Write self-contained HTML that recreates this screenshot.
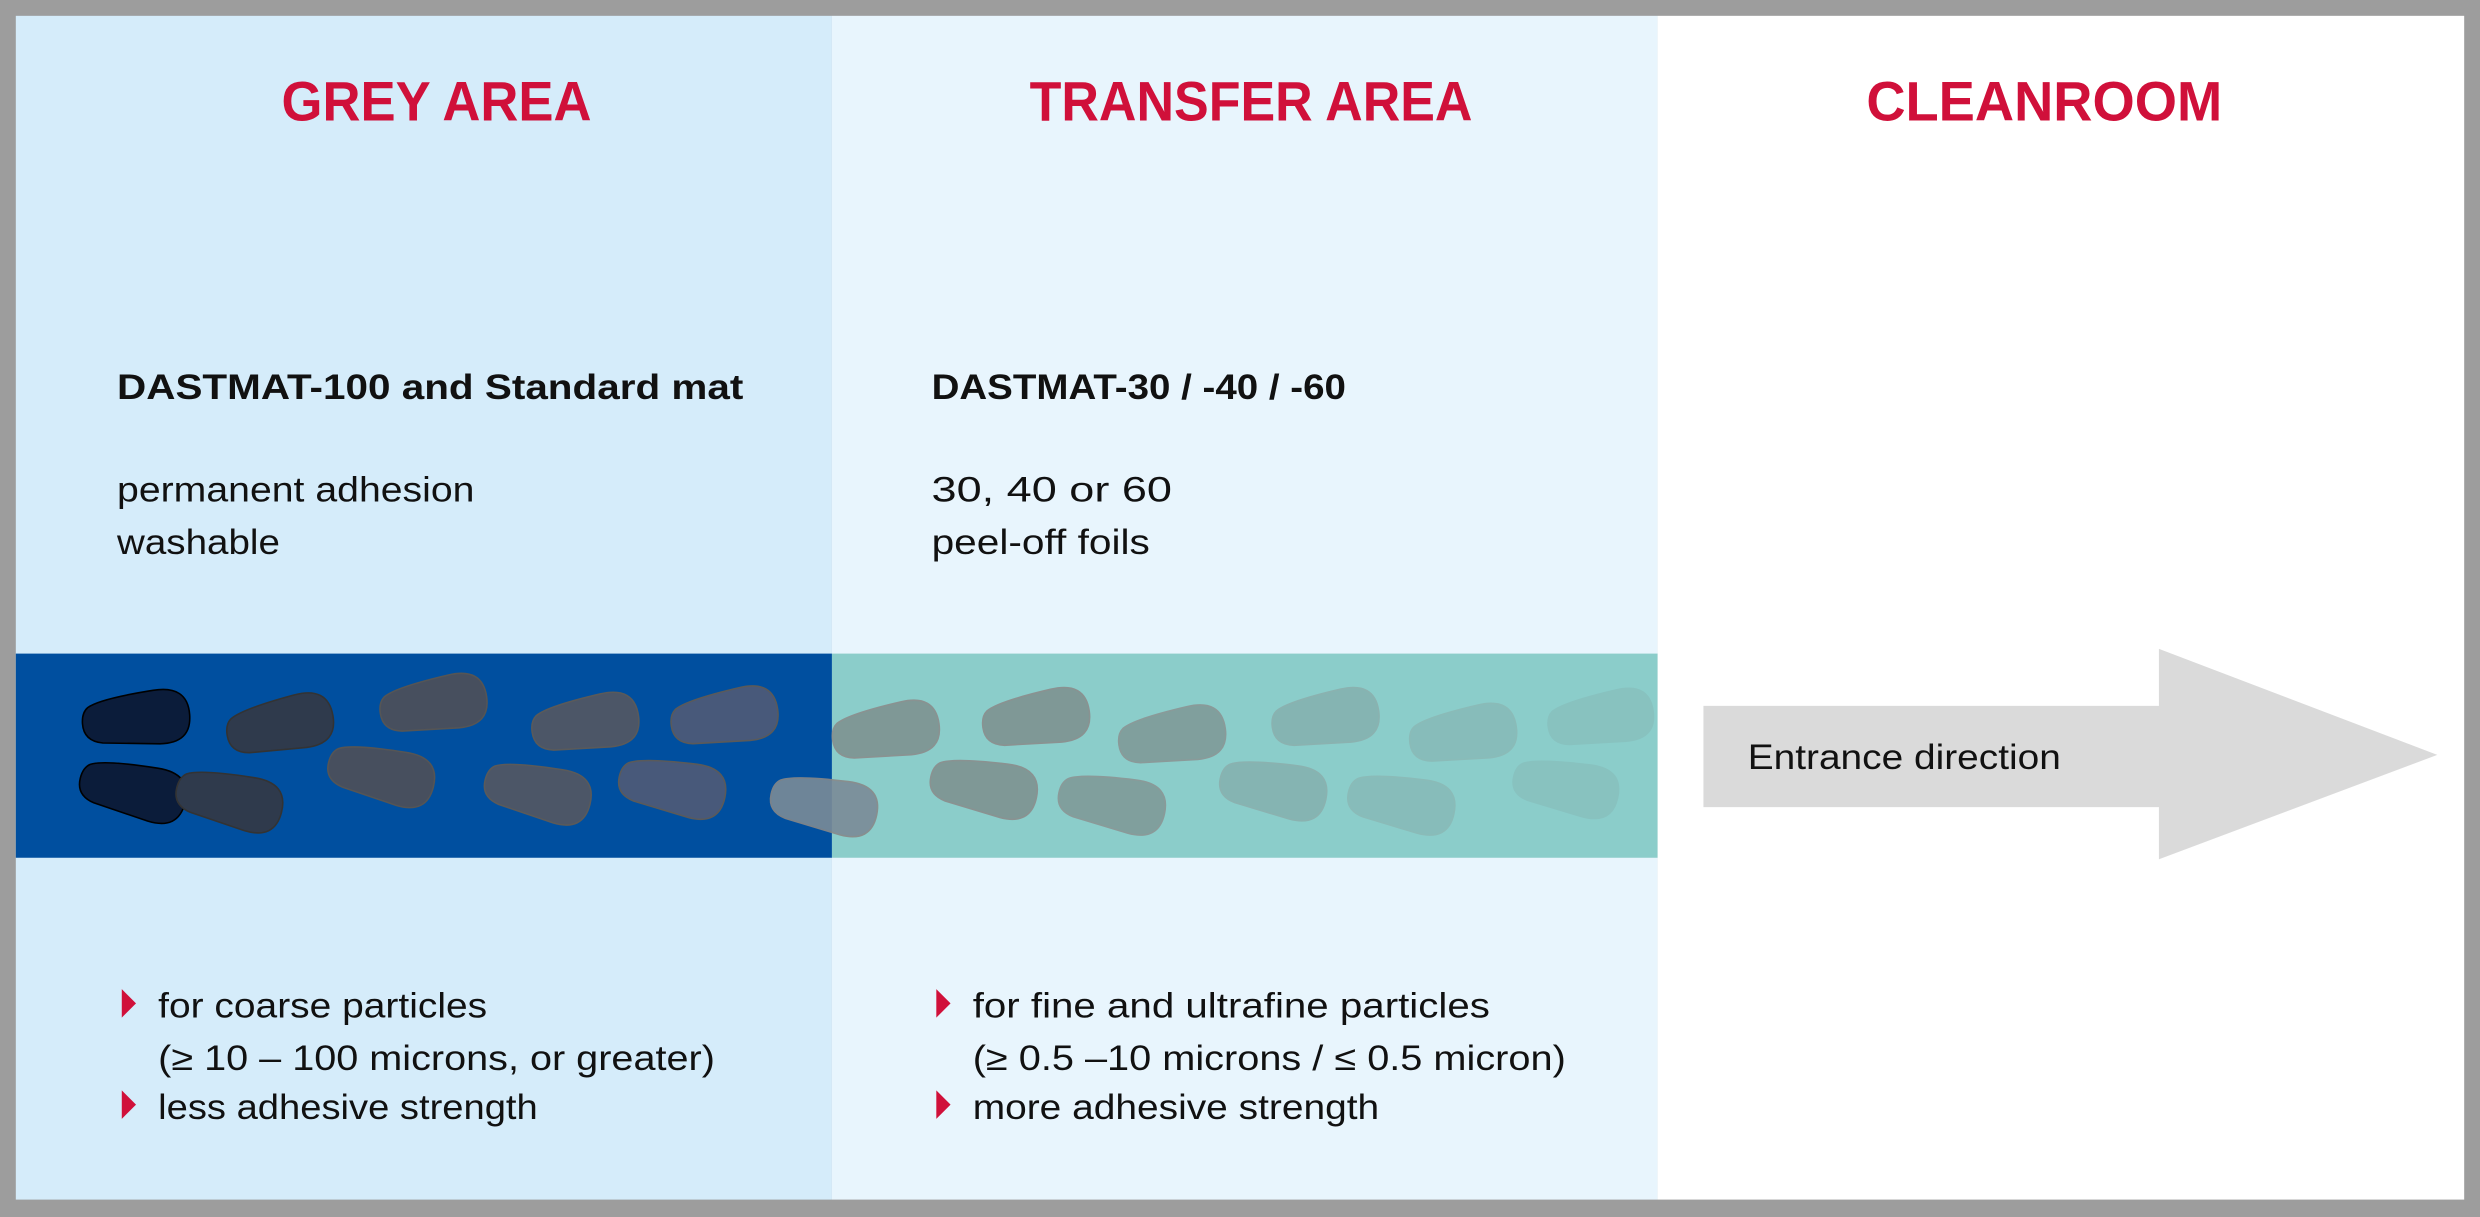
<!DOCTYPE html>
<html><head><meta charset="utf-8"><style>
html,body{margin:0;padding:0;background:#9d9d9d;}
svg{display:block;}
text{font-family:"Liberation Sans",sans-serif;}
</style></head><body>
<svg width="2480" height="1217" viewBox="0 0 1568 769" preserveAspectRatio="none" xmlns="http://www.w3.org/2000/svg">
<defs>
<path id="p" d="M-30,-9 Q-22,-14 12,-17 Q34,-19 34,0 Q34,18 14,17 L-22,14 Q-34,12 -34,1 Q-34,-6 -30,-9 Z"/>
</defs>
<rect x="0" y="0" width="1568" height="769" fill="#9d9d9d"/>
<rect x="10" y="10" width="516" height="748" fill="#d5ecfa"/>
<rect x="526" y="10" width="522" height="748" fill="#e8f5fd"/>
<rect x="1048" y="10" width="510" height="748" fill="#ffffff"/>
<rect x="10" y="413" width="516" height="129" fill="#004f9f"/>
<rect x="526" y="413" width="522" height="129" fill="#8bcdca"/>
<g>
<use href="#p" transform="translate(86,454) rotate(-4)" fill="#0b1c3a" stroke="#000" stroke-width="1"/>
<use href="#p" transform="translate(84,499) rotate(14)" fill="#0b1c3a" stroke="#000" stroke-width="1"/>
<use href="#p" transform="translate(177,458) rotate(-10)" fill="#2f3a4c" stroke="#333" stroke-width="1"/>
<use href="#p" transform="translate(145,505) rotate(14)" fill="#2f3a4c" stroke="#333" stroke-width="1"/>
<use href="#p" transform="translate(274,445) rotate(-8)" fill="#474f5e" stroke="#555" stroke-width="1"/>
<use href="#p" transform="translate(241,489) rotate(14)" fill="#474f5e" stroke="#555" stroke-width="1"/>
<use href="#p" transform="translate(370,457) rotate(-8)" fill="#4c5667" stroke="#5a5a5a" stroke-width="1"/>
<use href="#p" transform="translate(340,500) rotate(14)" fill="#4c5667" stroke="#5a5a5a" stroke-width="1"/>
<use href="#p" transform="translate(458,453) rotate(-8)" fill="#48597a" stroke="#5a5a5a" stroke-width="1"/>
<use href="#p" transform="translate(425,497) rotate(12)" fill="#48597a" stroke="#5a5a5a" stroke-width="1"/>
<use href="#p" transform="translate(521,508) rotate(12)" fill="#7b8b98" stroke="#888" stroke-width="1" opacity="0.9"/>
<use href="#p" transform="translate(560,462) rotate(-8)" fill="#7f9896" stroke="#8a9291" stroke-width="1"/>
<use href="#p" transform="translate(655,454) rotate(-8)" fill="#7f9896" stroke="#8a9291" stroke-width="1"/>
<use href="#p" transform="translate(622,497) rotate(12)" fill="#7f9896" stroke="#8a9291" stroke-width="1"/>
<use href="#p" transform="translate(741,465) rotate(-8)" fill="#7f9896" stroke="#8a9291" stroke-width="1" opacity="0.85"/>
<use href="#p" transform="translate(703,507) rotate(12)" fill="#7f9896" stroke="#8a9291" stroke-width="1" opacity="0.85"/>
<use href="#p" transform="translate(838,454) rotate(-8)" fill="#7f9896" stroke="#8a9291" stroke-width="1" opacity="0.45"/>
<use href="#p" transform="translate(805,498) rotate(12)" fill="#7f9896" stroke="#8a9291" stroke-width="1" opacity="0.45"/>
<use href="#p" transform="translate(925,464) rotate(-8)" fill="#7f9896" stroke="#8a9291" stroke-width="1" opacity="0.3"/>
<use href="#p" transform="translate(886,507) rotate(12)" fill="#7f9896" stroke="#8a9291" stroke-width="1" opacity="0.3"/>
<use href="#p" transform="translate(1012,454) rotate(-8)" fill="#7f9896" stroke="none" opacity="0.2"/>
<use href="#p" transform="translate(990,497) rotate(12)" fill="#7f9896" stroke="none" opacity="0.2"/>
</g>
<polygon points="1077,446 1365,446 1365,410 1541,477 1365,543 1365,510 1077,510" fill="#dadada"/>
<text x="1105" y="486" font-size="22" fill="#111" textLength="198" lengthAdjust="spacingAndGlyphs">Entrance direction</text>
<g fill="#d0103a" font-weight="bold" font-size="35">
<text x="178" y="76" textLength="196" lengthAdjust="spacingAndGlyphs">GREY AREA</text>
<text x="651" y="76" textLength="280" lengthAdjust="spacingAndGlyphs">TRANSFER AREA</text>
<text x="1180" y="76" textLength="225" lengthAdjust="spacingAndGlyphs">CLEANROOM</text>
</g>
<g fill="#111" font-size="22">
<text x="74" y="252" font-weight="bold" textLength="396" lengthAdjust="spacingAndGlyphs">DASTMAT-100 and Standard mat</text>
<text x="74" y="317" textLength="226" lengthAdjust="spacingAndGlyphs">permanent adhesion</text>
<text x="74" y="350" textLength="103" lengthAdjust="spacingAndGlyphs">washable</text>
<text x="589" y="252" font-weight="bold" textLength="262" lengthAdjust="spacingAndGlyphs">DASTMAT-30 / -40 / -60</text>
<text x="589" y="317" textLength="152" lengthAdjust="spacingAndGlyphs">30, 40 or 60</text>
<text x="589" y="350" textLength="138" lengthAdjust="spacingAndGlyphs">peel-off foils</text>
<text x="100" y="643" textLength="208" lengthAdjust="spacingAndGlyphs">for coarse particles</text>
<text x="100" y="676" textLength="352" lengthAdjust="spacingAndGlyphs">(≥ 10 – 100 microns, or greater)</text>
<text x="100" y="707" textLength="240" lengthAdjust="spacingAndGlyphs">less adhesive strength</text>
<text x="615" y="643" textLength="327" lengthAdjust="spacingAndGlyphs">for fine and ultrafine particles</text>
<text x="615" y="676" textLength="375" lengthAdjust="spacingAndGlyphs">(≥ 0.5 –10 microns / ≤ 0.5 micron)</text>
<text x="615" y="707" textLength="257" lengthAdjust="spacingAndGlyphs">more adhesive strength</text>
</g>
<g fill="#d0103a">
<polygon points="77,625 86,634 77,643"/>
<polygon points="77,689 86,698 77,707"/>
<polygon points="592,625 601,634 592,643"/>
<polygon points="592,689 601,698 592,707"/>
</g>
</svg>
</body></html>
